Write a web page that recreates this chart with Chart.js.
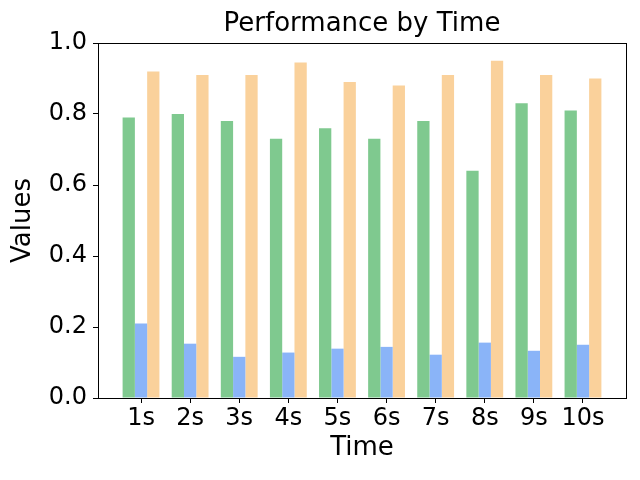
<!DOCTYPE html>
<html>
<head>
<meta charset="utf-8">
<script src="https://cdn.jsdelivr.net/npm/chart.js@4"></script>
<style>
  html, body { margin: 0; padding: 0; background: #fff; }
  #wrap { width: 640px; height: 480px; }
</style>
</head>
<body>
<div id="wrap"><canvas id="chart"></canvas></div>
<script>
const timeLabels = ['1s', '2s', '3s', '4s', '5s', '6s', '7s', '8s', '9s', '10s'];
const greenValues = [0.79, 0.80, 0.78, 0.73, 0.76, 0.73, 0.78, 0.64, 0.83, 0.81];
const blueValues = [0.21, 0.153, 0.116, 0.128, 0.139, 0.144, 0.122, 0.156, 0.133, 0.15];
const orangeValues = [0.92, 0.91, 0.91, 0.945, 0.89, 0.88, 0.91, 0.95, 0.91, 0.90];

const font = "'DejaVu Sans', sans-serif";

// matplotlib-like box around the plot
const frame = {
  id: 'frame',
  afterDraw(chart) {
    const { ctx, chartArea: a } = chart;
    ctx.save();
    ctx.strokeStyle = '#000';
    ctx.lineWidth = 1;
    ctx.strokeRect(Math.round(a.left) + 0.5, Math.round(a.top) + 0.5, Math.round(a.right - a.left), Math.round(a.bottom - a.top));
    ctx.restore();
  }
};

const toPoints = values => values.map((v, i) => ({ x: i + 1, y: v }));

new Chart(document.getElementById('chart'), {
  type: 'bar',
  data: {
    datasets: [
      { data: toPoints(greenValues), backgroundColor: '#7fc98f' },
      { data: toPoints(blueValues), backgroundColor: '#8ab4f8' },
      { data: toPoints(orangeValues), backgroundColor: '#fad19b' }
    ]
  },
  options: {
    responsive: true,
    maintainAspectRatio: false,
    animation: false,
    layout: { padding: { left: 0, right: 14, top: 0, bottom: 0 } },
    datasets: { bar: { categoryPercentage: 0.75, barPercentage: 1.0 } },
    plugins: {
      legend: { display: false },
      tooltip: { enabled: false },
      title: {
        display: true,
        text: 'Performance by Time',
        color: '#000',
        fullSize: false,
        font: { family: font, size: 26, weight: 'normal' },
        padding: { top: 9, bottom: 2.8 }
      }
    },
    scales: {
      x: {
        type: 'linear',
        min: 0.124,
        max: 10.876,
        offset: false,
        afterFit(scale) { scale.height = 82; },
        grid: { offset: false, drawOnChartArea: false, drawTicks: true, tickLength: 5, color: '#000' },
        border: { color: '#000' },
        ticks: {
          stepSize: 1,
          includeBounds: false,
          autoSkip: false,
          maxRotation: 0,
          padding: 1,
          color: '#000',
          font: { family: font, size: 24 },
          callback: v => timeLabels[v - 1] ?? ''
        },
        title: {
          display: true,
          text: 'Time',
          color: '#000',
          font: { family: font, size: 26 },
          padding: { top: 0, bottom: 16 }
        }
      },
      y: {
        min: 0,
        max: 1,
        afterFit(scale) { scale.width = 98; },
        grid: { drawOnChartArea: false, drawTicks: true, tickLength: 5, color: '#000' },
        border: { color: '#000' },
        ticks: {
          stepSize: 0.2,
          padding: 6,
          color: '#000',
          font: { family: font, size: 24 },
          callback: v => v.toFixed(1)
        },
        title: {
          display: true,
          text: 'Values',
          color: '#000',
          font: { family: font, size: 26 },
          padding: { top: 8, bottom: 0 }
        }
      }
    }
  },
  plugins: [frame]
});
</script>
</body>
</html>
